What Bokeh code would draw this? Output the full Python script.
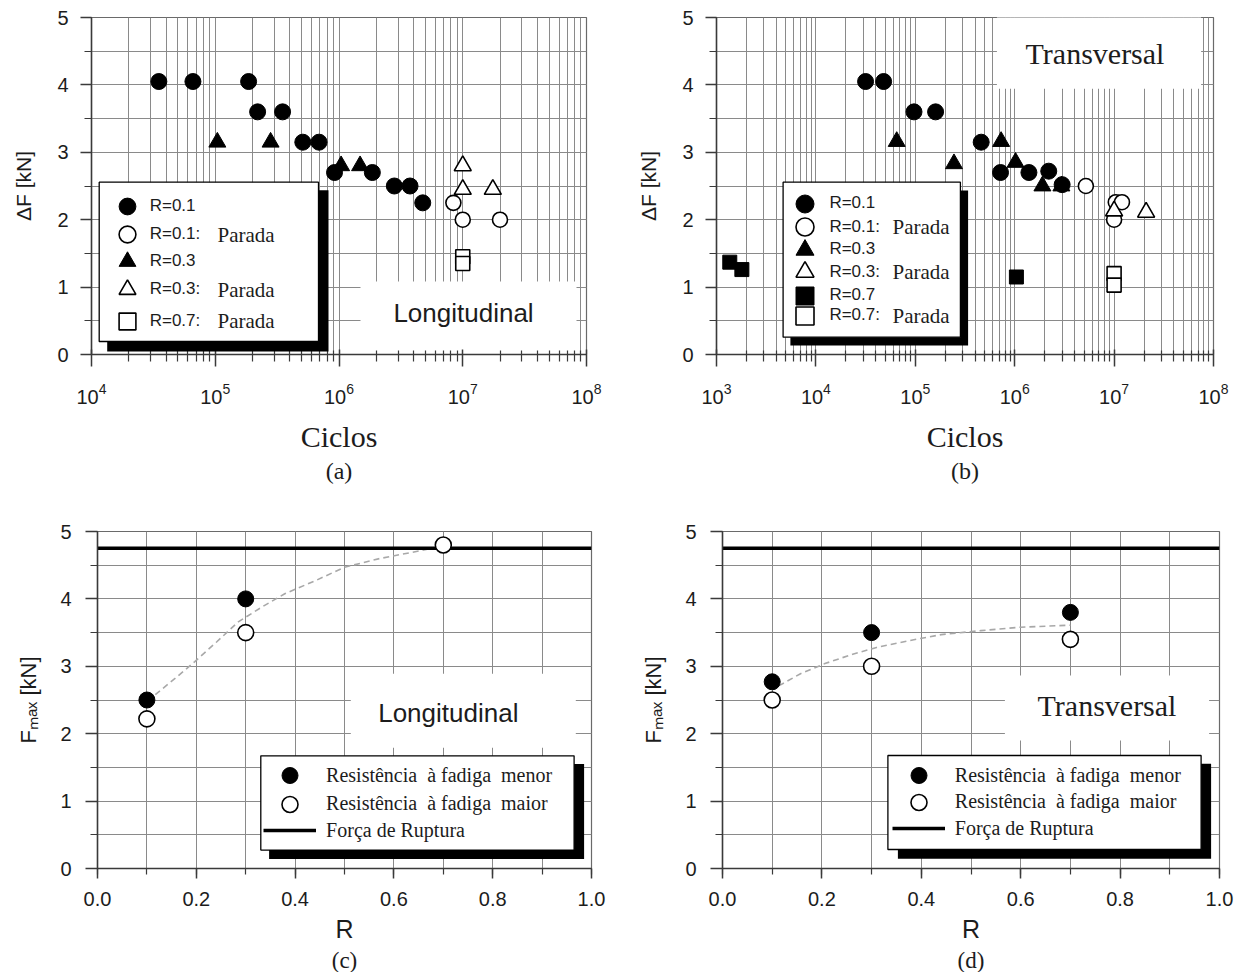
from bokeh.plotting import figure
from bokeh.models import (Range1d, FixedTicker, SingleIntervalTicker, NumeralTickFormatter,
                          Legend, LegendItem, BoxAnnotation, Label, Title)
from bokeh.layouts import row, column
from bokeh.embed import file_html
from bokeh.resources import INLINE

SANS = "Liberation Sans"
SERIF = "Liberation Serif"
GRID = "#8a8a8a"
TXT = "#1c1c1c"

# ---------------- data: (a) Longitudinal, S-N ----------------
a_r01_N = [3.5e4, 6.6e4, 1.86e5, 2.2e5, 3.5e5, 5.1e5, 6.9e5, 9.2e5, 1.86e6, 2.8e6, 3.75e6, 4.75e6]
a_r01_F = [4.05, 4.05, 4.05, 3.6, 3.6, 3.15, 3.15, 2.7, 2.7, 2.5, 2.5, 2.25]
a_r01p_N = [8.4e6, 1.0e7, 2.0e7]
a_r01p_F = [2.25, 2.0, 2.0]
a_r03_N = [1.04e5, 2.8e5, 1.04e6, 1.48e6]
a_r03_F = [3.15, 3.15, 2.8, 2.8]
a_r03p_N = [1.0e7, 1.0e7, 1.75e7]
a_r03p_F = [2.8, 2.45, 2.45]
a_r07p_N = [1.0e7, 1.0e7]
a_r07p_F = [1.45, 1.35]

# ---------------- data: (b) Transversal, S-N ----------------
b_r01_N = [3.16e4, 4.8e4, 9.7e4, 1.6e5, 4.6e5, 7.2e5, 1.39e6, 2.2e6, 3.0e6]
b_r01_F = [4.05, 4.05, 3.6, 3.6, 3.15, 2.7, 2.7, 2.72, 2.52]
b_r01p_N = [5.2e6, 1.04e7, 1.2e7, 1.0e7]
b_r01p_F = [2.5, 2.26, 2.26, 2.0]
b_r03_N = [6.5e4, 2.45e5, 7.3e5, 1.02e6, 1.9e6, 2.95e6]
b_r03_F = [3.16, 2.83, 3.16, 2.85, 2.5, 2.5]
b_r03p_N = [1.0e7, 2.1e7]
b_r03p_F = [2.13, 2.11]
b_r07_N = [1.36e3, 1.8e3, 1.04e6]
b_r07_F = [1.37, 1.26, 1.15]
b_r07p_N = [1.0e7, 1.0e7]
b_r07p_F = [1.2, 1.03]

# ---------------- data: (c) Longitudinal, Fmax vs R ----------------
R_vals = [0.1, 0.3, 0.7]
c_menor_R = [0.1, 0.3]
c_menor_F = [2.5, 4.0]
c_maior_R = [0.1, 0.3, 0.7]
c_maior_F = [2.22, 3.5, 4.8]
c_trend_R = [0.117, 0.157, 0.197, 0.241, 0.285, 0.333, 0.38, 0.444, 0.5, 0.572, 0.636, 0.691]
c_trend_F = [2.58, 2.82, 3.07, 3.36, 3.66, 3.88, 4.08, 4.28, 4.47, 4.6, 4.69, 4.77]

# ---------------- data: (d) Transversal, Fmax vs R ----------------
d_menor_F = [2.77, 3.5, 3.8]
d_maior_F = [2.5, 3.0, 3.4]
d_trend_R = [0.113, 0.157, 0.206, 0.262, 0.31, 0.375, 0.44, 0.52, 0.6, 0.7]
d_trend_F = [2.71, 2.89, 3.04, 3.18, 3.28, 3.38, 3.47, 3.53, 3.58, 3.61]

rup_R = [0.0, 1.0]
rup_F = [4.75, 4.75]


def make_fig(width, height, x_range, y_range, x_axis_type, borders):
    l, r, t, b = borders
    p = figure(width=width, height=height, x_range=x_range, y_range=y_range,
               x_axis_type=x_axis_type, output_backend="svg", toolbar_location=None,
               min_border_left=l, min_border_right=r, min_border_top=t, min_border_bottom=b,
               background_fill_color="white", border_fill_color="white")
    p.outline_line_color = "#6a6a6a"
    p.outline_line_width = 1.2
    for g in (p.xgrid[0], p.ygrid[0]):
        g.grid_line_color = GRID
        g.grid_line_width = 1
        g.minor_grid_line_color = GRID
        g.minor_grid_line_width = 1
    for ax in (p.xaxis[0], p.yaxis[0]):
        ax.axis_line_color = "#3a3a3a"
        ax.axis_line_width = 1.5
        ax.major_tick_line_color = "#3a3a3a"
        ax.minor_tick_line_color = "#3a3a3a"
        ax.major_tick_line_width = 1.5
        ax.minor_tick_line_width = 1.2
        ax.major_label_text_font = SANS
        ax.major_label_text_color = TXT
        ax.axis_label_text_font_style = "normal"
        ax.axis_label_text_color = TXT
    return p


def add_box(p, left, right, bottom, top, fill, line=None, level="annotation"):
    p.add_layout(BoxAnnotation(left=left, right=right, bottom=bottom, top=top,
                               left_units="screen", right_units="screen",
                               bottom_units="screen", top_units="screen",
                               fill_color=fill, fill_alpha=1.0,
                               line_color=line, line_width=1.3, line_alpha=1.0 if line else 0,
                               level=level))


def add_label(p, x, y, text, font, size, align="left"):
    p.add_layout(Label(x=x, y=y, x_units="screen", y_units="screen", text=text,
                       text_font=font, text_font_size=size, text_color=TXT,
                       text_baseline="middle", text_align=align))


def add_legend_rows(p, entries, x, y_centers, gh, gw, standoff, font, size):
    # one single-item legend per row, so that the row pitch can be tighter than the key size
    for (lab, r), yc in zip(entries, y_centers):
        leg = Legend(items=[LegendItem(label=lab, renderers=[r])],
                     location=(x, yc - gh / 2), orientation="vertical", padding=0, margin=0,
                     spacing=0, glyph_height=gh, glyph_width=gw, label_height=gh,
                     label_standoff=standoff, label_text_font=font, label_text_font_size=size,
                     label_text_color=TXT, background_fill_alpha=0, border_line_alpha=0)
        p.add_layout(leg, "center")


def sn_axes(p, decades, minors, sub):
    tk = FixedTicker(ticks=decades, minor_ticks=minors)
    p.xaxis.ticker = tk
    p.xgrid.ticker = tk
    yt = SingleIntervalTicker(interval=1, num_minor_ticks=2)
    p.yaxis.ticker = yt
    p.ygrid.ticker = yt
    xa, ya = p.xaxis[0], p.yaxis[0]
    xa.major_tick_in, xa.major_tick_out = 5, 12
    xa.minor_tick_in, xa.minor_tick_out = 4, 7
    xa.major_label_text_font_size = "20px"
    xa.major_label_standoff = 16
    xa.axis_label = "Ciclos"
    xa.axis_label_text_font = SERIF
    xa.axis_label_text_font_size = "30px"
    xa.axis_label_standoff = 13
    ya.major_tick_in, ya.major_tick_out = 0, 11
    ya.minor_tick_in, ya.minor_tick_out = 0, 7
    ya.major_label_text_font_size = "20px"
    ya.major_label_standoff = 12
    ya.axis_label = "ΔF [kN]"
    ya.axis_label_text_font = SANS
    ya.axis_label_text_font_size = "21px"
    ya.axis_label_standoff = 19
    p.add_layout(Title(text=sub, align="center", text_font=SERIF, text_font_size="24px",
                       text_font_style="normal", text_color=TXT, standoff=0), "below")


def fr_axes(p, sub):
    xt = SingleIntervalTicker(interval=0.2, num_minor_ticks=2)
    p.xaxis.ticker = xt
    p.xgrid.ticker = xt
    yt = SingleIntervalTicker(interval=1, num_minor_ticks=2)
    p.yaxis.ticker = yt
    p.ygrid.ticker = yt
    xa, ya = p.xaxis[0], p.yaxis[0]
    xa.formatter = NumeralTickFormatter(format="0.0")
    xa.major_tick_in, xa.major_tick_out = 0, 10
    xa.minor_tick_in, xa.minor_tick_out = 0, 6
    xa.major_label_text_font_size = "20px"
    xa.major_label_standoff = 13
    xa.axis_label = "R"
    xa.axis_label_text_font = SANS
    xa.axis_label_text_font_size = "25px"
    xa.axis_label_standoff = 6
    ya.major_tick_in, ya.major_tick_out = 0, 12
    ya.minor_tick_in, ya.minor_tick_out = 0, 7
    ya.major_label_text_font_size = "20px"
    ya.major_label_standoff = 14
    ya.axis_label = "Fₘₐₓ [kN]"
    ya.axis_label_text_font = SANS
    ya.axis_label_text_font_size = "22px"
    ya.axis_label_standoff = 16
    p.add_layout(Title(text=sub, align="center", text_font=SERIF, text_font_size="23px",
                       text_font_style="normal", text_color=TXT, standoff=0), "below")


def blk(p, x, y, marker, size):
    return p.scatter(x, y, marker=marker, size=size, fill_color="black", line_color="black", line_width=1)


def opn(p, x, y, marker, size):
    return p.scatter(x, y, marker=marker, size=size, fill_color="white", line_color="black", line_width=1.6)


H1, H2 = 488, 484

# ======================= (a) =======================
pa = make_fig(620, H1, Range1d(1e4, 1e8), Range1d(0, 5), "log", (91, 34, 17, H1 - 355))
sn_axes(pa, [10.0 ** e for e in range(4, 9)],
        [m * 10.0 ** e for e in range(4, 8) for m in range(2, 10)], "(a)")
add_box(pa, 269, 485, 0, 73, "white", level="underlay")
ra1 = blk(pa, a_r01_N, a_r01_F, "circle", 16)
ra2 = opn(pa, a_r01p_N, a_r01p_F, "circle", 15)
ra3 = blk(pa, a_r03_N, a_r03_F, "triangle", 17)
ra4 = opn(pa, a_r03p_N, a_r03p_F, "triangle", 17)
ra5 = opn(pa, a_r07p_N, a_r07p_F, "square", 14)
add_label(pa, 372, 42, "Longitudinal", SANS, "26px", "center")
add_box(pa, 15.7, 237, 3, 164.3, "black")
add_box(pa, 7.7, 227, 13, 172.3, "white", line="black")
add_legend_rows(pa, [("R=0.1", ra1), ("R=0.1:", ra2), ("R=0.3", ra3), ("R=0.3:", ra4), ("R=0.7:", ra5)],
                14.7, [148.3, 120, 93.3, 65, 33.3], 42, 42, 2, SANS, "17px")
for yy in (120, 65, 33.3):
    add_label(pa, 126, yy, "Parada", SERIF, "21px")

# ======================= (b) =======================
pb = make_fig(620, H1, Range1d(1e3, 1e8), Range1d(0, 5), "log", (96, 27, 17, H1 - 354))
sn_axes(pb, [10.0 ** e for e in range(3, 9)],
        [m * 10.0 ** e for e in range(3, 8) for m in range(2, 10)], "(b)")
add_box(pb, 280.4, 484.6, 265.7, 340, "white", level="underlay")
rb1 = blk(pb, b_r01_N, b_r01_F, "circle", 16)
rb2 = opn(pb, b_r01p_N, b_r01p_F, "circle", 15)
rb3 = blk(pb, b_r03_N, b_r03_F, "triangle", 17)
rb4 = opn(pb, b_r03p_N, b_r03p_F, "triangle", 17)
rb5 = blk(pb, b_r07_N, b_r07_F, "square", 14)
rb6 = opn(pb, b_r07p_N, b_r07p_F, "square", 14)
add_label(pb, 378.5, 301, "Transversal", SERIF, "30px", "center")
add_box(pb, 73.9, 251.6, 9, 164, "black")
add_box(pb, 66.6, 243.9, 17.3, 172.3, "white", line="black")
add_legend_rows(pb, [("R=0.1", rb1), ("R=0.1:", rb2), ("R=0.3", rb3), ("R=0.3:", rb4),
                     ("R=0.7", rb5), ("R=0.7:", rb6)],
                66.4, [150.7, 127.3, 105, 82.3, 59, 39], 45, 45, 2, SANS, "17px")
for yy in (127.3, 82.3, 39):
    add_label(pb, 176, yy, "Parada", SERIF, "21px")

# ======================= (c) =======================
pc = make_fig(620, H2, Range1d(0, 1), Range1d(0, 5), "linear", (97, 29, 41, 104))
fr_axes(pc, "(c)")
add_box(pc, 253.3, 478.3, 120.7, 194.7, "white", level="underlay")
pc.line(c_trend_R, c_trend_F, line_color="#a8a8a8", line_width=1.6, line_dash="6 4")
rc3 = pc.line(rup_R, rup_F, line_color="black", line_width=3.5)
rc1 = blk(pc, c_menor_R, c_menor_F, "circle", 16)
rc2 = opn(pc, c_maior_R, c_maior_F, "circle", 16)
add_label(pc, 350.8, 155.2, "Longitudinal", SANS, "26px", "center")
add_box(pc, 171.6, 486.6, 9.4, 104.4, "black")
add_box(pc, 163.3, 476.6, 18.4, 112.7, "white", line="black")
add_legend_rows(pc, [("Resistência  à fadiga  menor", rc1), ("Resistência  à fadiga  maior", rc2),
                     ("Força de Ruptura", rc3)],
                166.1, [92.7, 64.4, 37.7], 40, 53, 10, SERIF, "20px")

# ======================= (d) =======================
pd_ = make_fig(620, H2, Range1d(0, 1), Range1d(0, 5), "linear", (102, 21, 43, 104))
fr_axes(pd_, "(d)")
add_box(pd_, 282.4, 486.6, 128, 193, "white", level="underlay")
pd_.line(d_trend_R, d_trend_F, line_color="#a8a8a8", line_width=1.6, line_dash="6 4")
rd3 = pd_.line(rup_R, rup_F, line_color="black", line_width=3.5)
rd1 = blk(pd_, R_vals, d_menor_F, "circle", 16)
rd2 = opn(pd_, R_vals, d_maior_F, "circle", 16)
add_label(pd_, 384.5, 163, "Transversal", SERIF, "30px", "center")
add_box(pd_, 175.4, 488.6, 9.7, 104.7, "black")
add_box(pd_, 165.4, 478.6, 19, 113, "white", line="black")
add_legend_rows(pd_, [("Resistência  à fadiga  menor", rd1), ("Resistência  à fadiga  maior", rd2),
                      ("Força de Ruptura", rd3)],
                169.8, [93, 66.3, 39.7], 40, 53, 10, SERIF, "20px")

layout = column(row(pa, pb), row(pc, pd_))
open("out.html", "w").write(file_html(layout, INLINE))
